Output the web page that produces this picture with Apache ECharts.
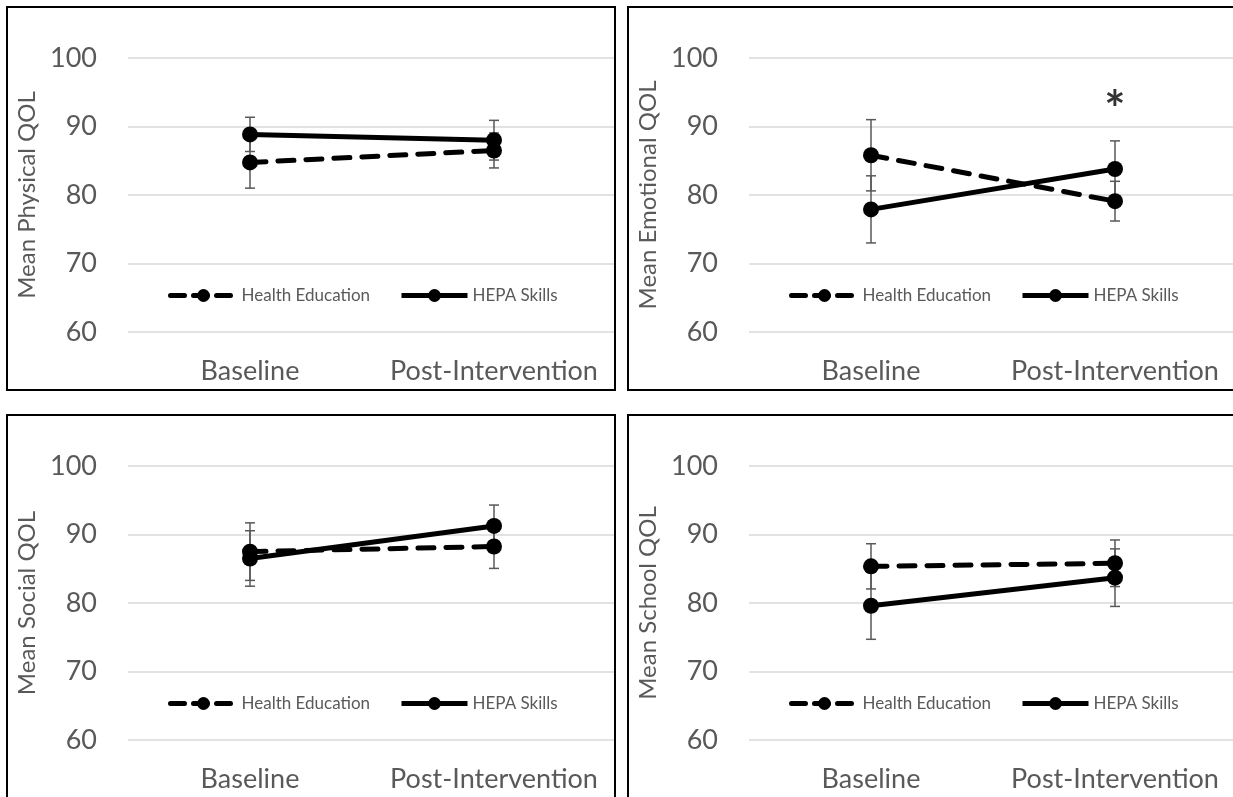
<!DOCTYPE html>
<html>
<head>
<meta charset="utf-8">
<script src="https://cdn.jsdelivr.net/npm/echarts@6/dist/echarts.min.js"></script>
<style>
  html, body { margin: 0; padding: 0; background: #fff; }
  body { width: 1233px; height: 797px; position: relative; overflow: hidden; }
  .chart { position: absolute; width: 610px; height: 385px; }
  .frame { position: absolute; width: 610px; height: 385px; box-sizing: border-box; border: 2px solid #000; pointer-events: none; }
</style>
</head>
<body>
<div class="chart" id="c1" style="left:6px;top:6px"></div>
<div class="chart" id="c2" style="left:627px;top:6px"></div>
<div class="chart" id="c3" style="left:6px;top:414px"></div>
<div class="chart" id="c4" style="left:627px;top:414px"></div>
<div class="frame" style="left:6px;top:6px"></div>
<div class="frame" style="left:627px;top:6px"></div>
<div class="frame" style="left:6px;top:414px"></div>
<div class="frame" style="left:627px;top:414px"></div>
<script>
// ---- data ----
const categories = ['Baseline', 'Post-Intervention'];
const yTicks = [60, 70, 80, 90, 100];
const seriesNames = ['Health Education', 'HEPA Skills'];

const physicalTitle = 'Mean Physical QOL';
const physicalHealthEd = [84.75, 86.5];
const physicalHealthEdErr = [3.75, 2.55];
const physicalHepa = [88.85, 88.0];
const physicalHepaErr = [2.5, 2.9];
const physicalSignif = [null, null];

const emotionalTitle = 'Mean Emotional QOL';
const emotionalHealthEd = [85.8, 79.1];
const emotionalHealthEdErr = [5.2, 2.9];
const emotionalHepa = [77.9, 83.8];
const emotionalHepaErr = [4.9, 4.1];
const emotionalSignif = [null, 94.0];

const socialTitle = 'Mean Social QOL';
const socialHealthEd = [87.5, 88.25];
const socialHealthEdErr = [4.2, 3.2];
const socialHepa = [86.5, 91.25];
const socialHepaErr = [4.05, 3.05];
const socialSignif = [null, null];

const schoolTitle = 'Mean School QOL';
const schoolHealthEd = [85.35, 85.8];
const schoolHealthEdErr = [3.3, 3.4];
const schoolHepa = [79.6, 83.7];
const schoolHepaErr = [4.9, 4.2];
const schoolSignif = [null, null];

// ---- styling ----
const FONT = 'Lato, "Open Sans", sans-serif';
const TXT = '#595959';

function errorBars(means, errs) {
  return {
    type: 'custom',
    name: 'err',
    z: 1,
    silent: true,
    data: means.map((m, i) => [i, m - errs[i], m + errs[i]]),
    renderItem: function (params, api) {
      const lo = api.coord([api.value(0), api.value(1)]);
      const hi = api.coord([api.value(0), api.value(2)]);
      const hw = 5;
      const st = { stroke: '#595959', lineWidth: 1.5 };
      return {
        type: 'group',
        children: [
          { type: 'line', shape: { x1: hi[0], y1: hi[1], x2: lo[0], y2: lo[1] }, style: st },
          { type: 'line', shape: { x1: hi[0] - hw, y1: hi[1], x2: hi[0] + hw, y2: hi[1] }, style: st },
          { type: 'line', shape: { x1: lo[0] - hw, y1: lo[1], x2: lo[0] + hw, y2: lo[1] }, style: st }
        ]
      };
    }
  };
}

function makePanel(id, title, he, heErr, hepa, hepaErr, signif) {
  const chart = echarts.init(document.getElementById(id), null, { renderer: 'canvas' });
  const sigData = [];
  signif.forEach((v, i) => { if (v != null) sigData.push([i, v]); });
  const legendBase = {
    top: 276,
    itemWidth: 66,
    itemHeight: 16,
    textStyle: { fontFamily: FONT, fontSize: 17, color: TXT },
    selectedMode: false
  };
  chart.setOption({
    animation: false,
    textStyle: { fontFamily: FONT },
    grid: { left: 122, top: 52, width: 490, height: 274 },
    legend: [
      Object.assign({}, legendBase, { left: 157, data: [seriesNames[0]], lineStyle: { width: 5, type: [14, 9], cap: 'round' } }),
      Object.assign({}, legendBase, { left: 388, data: [seriesNames[1]], lineStyle: { width: 5 } })
    ],
    xAxis: {
      type: 'category',
      data: categories,
      boundaryGap: true,
      axisLine: { show: false },
      axisTick: { show: false },
      axisLabel: { fontFamily: FONT, fontSize: 27, color: TXT, margin: 26, interval: 0 }
    },
    yAxis: {
      type: 'value',
      min: yTicks[0],
      max: yTicks[yTicks.length - 1],
      interval: yTicks[1] - yTicks[0],
      axisLine: { show: false },
      axisTick: { show: false },
      splitLine: { lineStyle: { color: '#d9d9d9', width: 1.5 } },
      axisLabel: { fontFamily: FONT, fontSize: 27, color: TXT, margin: 31 },
      name: title,
      nameLocation: 'middle',
      nameGap: 89,
      nameTextStyle: { fontFamily: FONT, fontSize: 24, color: TXT }
    },
    series: [
      errorBars(he, heErr),
      errorBars(hepa, hepaErr),
      {
        name: seriesNames[0],
        type: 'line',
        z: 3,
        data: he,
        symbol: 'circle',
        symbolSize: 16,
        itemStyle: { color: '#000' },
        lineStyle: { color: '#000', width: 5, type: [16, 12], cap: 'round' }
      },
      {
        name: seriesNames[1],
        type: 'line',
        z: 4,
        data: hepa,
        symbol: 'circle',
        symbolSize: 16,
        itemStyle: { color: '#000' },
        lineStyle: { color: '#000', width: 5, type: 'solid' }
      },
      {
        name: 'sig',
        type: 'scatter',
        symbolSize: 1,
        itemStyle: { color: 'rgba(0,0,0,0)' },
        data: sigData,
        label: {
          show: true,
          position: 'inside',
          formatter: '*',
          fontFamily: FONT,
          fontSize: 50,
          fontWeight: 'bold',
          color: '#000',
          offset: [0, 12]
        }
      }
    ]
  });
}

makePanel('c1', physicalTitle, physicalHealthEd, physicalHealthEdErr, physicalHepa, physicalHepaErr, physicalSignif);
makePanel('c2', emotionalTitle, emotionalHealthEd, emotionalHealthEdErr, emotionalHepa, emotionalHepaErr, emotionalSignif);
makePanel('c3', socialTitle, socialHealthEd, socialHealthEdErr, socialHepa, socialHepaErr, socialSignif);
makePanel('c4', schoolTitle, schoolHealthEd, schoolHealthEdErr, schoolHepa, schoolHepaErr, schoolSignif);
</script>
</body>
</html>
